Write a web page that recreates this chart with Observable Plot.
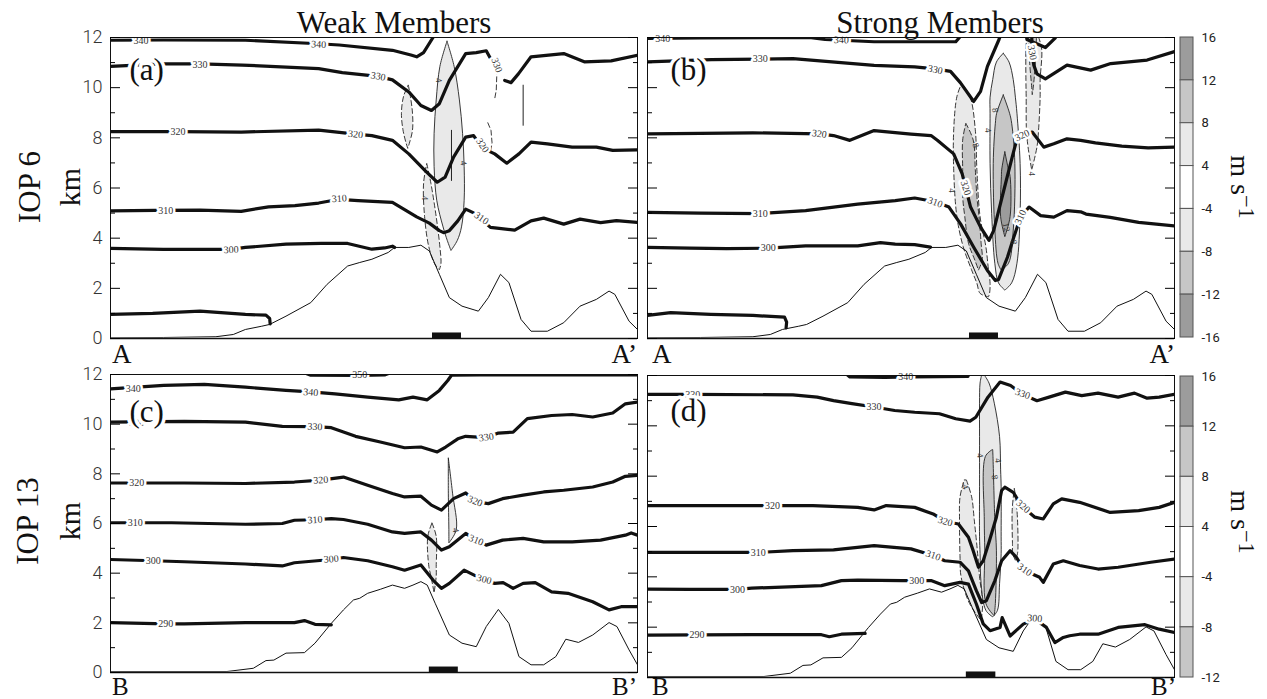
<!DOCTYPE html>
<html><head><meta charset="utf-8">
<script src="https://cdn.jsdelivr.net/npm/d3@7"></script>
<script src="https://cdn.jsdelivr.net/npm/@observablehq/plot@0.6"></script>
<style>
body{margin:0;background:#fff;}
#fig{position:relative;width:1267px;height:699px;overflow:hidden;background:#fff;}
.lab{position:absolute;font-family:"Liberation Serif","Times New Roman",serif;color:#111;white-space:nowrap;line-height:1;}
</style></head><body><div id="fig"></div>
<script>
// ---------------- DATA ----------------
// distance along section (0..100 % of A-A' / B-B'), height in km
const terrainA = [[0,0.03],[10,0.04],[20,0.07],[23.3,0.16],[25.6,0.36],[28.7,0.49],[30.2,0.56],[33.3,0.89],[38,1.43],[41.1,2.16],[45,2.89],[47.3,3.03],[49.6,3.16],[52.7,3.43],[53.9,3.63],[56.6,3.63],[58.9,3.72],[60.5,3.49],[62.4,2.56],[64.3,1.63],[66.7,1.29],[69.8,1.09],[71.7,1.63],[74,2.56],[75.6,2.23],[77.9,0.76],[79.8,0.29],[82.9,0.29],[86,0.63],[89.1,1.29],[92.2,1.56],[94.6,1.89],[95.7,1.76],[98.4,0.69],[100,0.36]];
const terrainB = [[0,0.04],[22.1,0.04],[27.1,0.17],[29.5,0.48],[31,0.5],[33.3,0.78],[36.8,0.8],[38.8,1.18],[41.9,1.98],[44.2,2.52],[46.1,2.92],[47.3,2.99],[48.8,3.19],[51.2,3.35],[53.5,3.52],[55.8,3.39],[57.4,3.52],[58.9,3.66],[60.1,3.52],[61.6,2.79],[64.3,1.51],[66.7,1.18],[69.4,1.04],[71.3,1.85],[73.6,2.54],[75.6,1.98],[77.5,0.64],[79.8,0.31],[82.2,0.31],[84.5,0.64],[86.4,1.34],[88.8,1.21],[91.5,1.51],[94.6,2.01],[96.1,1.85],[98.4,0.91],[100,0.31]];

// isentropes (K): t = theta, s = segment, p = [x, km]
const isenA = [
 {t:290,s:0,p:[[0,0.96],[8,1.0],[17,1.09],[25.6,0.96],[29.5,0.93],[30.2,0.8],[30.3,0.58]]},
 {t:300,s:0,p:[[0,3.59],[10,3.55],[22.9,3.55],[25.6,3.63],[33.3,3.76],[40,3.79],[45,3.79],[49.6,3.56],[52,3.61],[53.5,3.68],[53.9,3.63]]},
 {t:310,s:0,p:[[0,5.09],[8.5,5.11],[17,5.12],[24.8,5.07],[30,5.25],[35,5.3],[39.5,5.4],[43.4,5.55],[47,5.5],[53.5,5.43],[58.1,4.85],[60.5,4.6],[62.4,4.3],[63.2,4.22],[64.3,4.3],[65.9,4.69],[67.4,5.16],[69,5.0],[72.1,4.43],[76.7,4.32],[79.8,4.69],[82.2,4.8],[86,4.56],[89.1,4.76],[93,4.62],[96,4.7],[100,4.63]]},
 {t:320,s:0,p:[[0,8.25],[12.8,8.25],[24.8,8.23],[39.5,8.31],[46.5,8.15],[49.6,8.09],[53.5,7.9],[56.6,7.36],[59.7,6.69],[62,6.23],[63.5,6.43],[65.1,7.23],[67.4,8.03],[68.9,8.09],[70.5,7.6],[72.9,7.36],[75.2,6.99],[77.5,7.36],[79.8,7.83],[82.9,7.76],[87.6,7.63],[92.2,7.63],[95.3,7.5],[100,7.52]]},
 {t:330,s:0,p:[[0,10.85],[10,10.95],[17,10.95],[25,10.9],[39.5,10.76],[44,10.6],[50.8,10.45],[53.5,10.31],[56.6,9.83],[58.9,9.29],[60.9,9.09],[62.4,9.36],[64.3,10.29],[67.4,11.36],[69.4,11.4],[71.3,11.47],[72,11.2]]},
 {t:330,s:1,p:[[74.8,10.29],[76,10.2],[77.4,10.55],[79.8,11.23],[86,11.36],[89.9,11.03],[95,11.07],[100,11.29]]},
 {t:340,s:0,p:[[0,11.89],[10,11.9],[25.6,11.89],[39.5,11.75],[43.4,11.7],[53.5,11.49],[57,11.3],[58.1,11.23],[59.4,11.4],[61.2,12],[61.4,12.2]]}
];
const isenB = [
 {t:290,s:0,p:[[0,0.92],[4.4,1.03],[12,0.96],[20,0.92],[26,0.85],[26.4,0.65],[26.3,0.42]]},
 {t:300,s:0,p:[[0,3.63],[8,3.6],[15,3.58],[22.9,3.6],[30,3.69],[39.9,3.69],[44.2,3.82],[47,3.76],[50.7,3.74],[53.7,3.64]]},
 {t:310,s:0,p:[[0,5.03],[10,5.0],[21.4,4.98],[30,5.1],[39.9,5.36],[47,5.5],[50.7,5.6],[54.6,5.45],[57.2,5.24],[59.4,4.57],[61.9,3.64],[64.5,2.71],[66.0,2.31],[66.6,2.35],[68.3,3.24],[69.5,4.04],[70.8,4.84],[72.4,5.24],[74.6,4.9],[77.1,4.84],[79.6,5.1],[82.2,5.05],[83.2,4.96],[87.8,4.83],[93.2,4.63],[100,4.49]]},
 {t:320,s:0,p:[[0,8.16],[10,8.18],[20,8.2],[32.6,8.16],[35.3,8.09],[38.4,7.9],[43,8.29],[50,8.15],[53.8,8.09],[55,7.9],[58.1,7.36],[59.7,6.57],[60.4,6.0],[61.3,5.24],[63.2,4.44],[64.8,3.91],[65.7,4.31],[67.6,5.9],[69.2,7.23],[70.2,8.03],[71,8.1],[73,8.23],[75.2,7.63],[77.1,7.76],[79.6,7.96],[82.2,7.9],[85,7.8],[90,7.67],[95,7.6],[100,7.63]]},
 {t:330,s:0,p:[[0,11.03],[12.1,11.12],[21.4,11.14],[27.6,11.16],[35,11.03],[43,10.89],[50.7,10.83],[54.6,10.75],[57.5,10.65],[59.4,10.19],[61.9,9.45],[63.2,9.85],[64.5,10.85],[66.7,11.92],[67.2,12.2]]},
 {t:330,s:1,p:[[72.9,12.2],[73,11.3],[73.3,10.9],[73.9,10.55],[75.5,10.35],[79.6,10.9],[84.1,10.7],[87.9,10.96],[94.8,11.1],[100,11.44]]},
 {t:340,s:0,p:[[0,11.96],[10,11.98],[30.7,12.0],[33.7,11.92],[43,11.83],[50,11.83],[58.5,11.83],[59.2,12.0],[59.4,12.2]]},
 {t:340,s:1,p:[[71.8,12.2],[72,11.92],[75.5,11.6],[77.4,11.99],[77.6,12.2]]}
];
const isenC = [
 {t:290,s:0,p:[[0,2.01],[10.5,1.96],[14,1.96],[25.6,2.01],[34.9,2.01],[36.8,2.09],[38.8,1.94],[41.9,1.92]]},
 {t:300,s:0,p:[[0,4.55],[8.1,4.5],[14,4.46],[25.6,4.37],[32.6,4.29],[34.9,4.42],[41.9,4.55],[44.2,4.63],[48.8,4.5],[53.5,4.26],[55.8,4.12],[58.9,4.33],[61.2,3.72],[62.8,3.39],[64.3,3.59],[67.1,4.12],[70.9,3.72],[72.9,3.59],[74.5,3.62],[76.4,3.39],[78.3,3.59],[80.6,3.62],[83.7,3.25],[86.8,3.19],[91.5,2.85],[94.6,2.52],[96.9,2.65],[100,2.65]]},
 {t:310,s:0,p:[[0,6.03],[4.7,6.03],[11.6,6.03],[25.6,5.97],[32.6,6.0],[34.9,6.13],[38.8,6.15],[41.9,6.2],[44.2,6.16],[48.8,5.97],[53.5,5.66],[55.8,5.6],[58.9,5.66],[60.9,5.33],[62.8,4.93],[64.3,5.06],[67.4,5.6],[69.4,5.33],[71.3,5.13],[74.4,5.33],[78.3,5.4],[82.2,5.26],[87.6,5.26],[93,5.33],[97.7,5.53],[98.8,5.62],[100,5.53]]},
 {t:320,s:0,p:[[0,7.63],[14,7.63],[25.6,7.61],[34.9,7.67],[39.9,7.75],[44.2,7.87],[48.8,7.54],[53.5,7.21],[55.8,7.07],[58.9,7.1],[60.9,6.74],[62.8,6.54],[65.1,7.0],[67.4,7.23],[69.4,6.87],[71.7,6.8],[74.4,7.0],[78.3,7.14],[82.2,7.27],[86,7.34],[91.5,7.47],[95.3,7.67],[97.7,7.9],[100,7.94]]},
 {t:330,s:0,p:[[0,10.08],[14,10.11],[25.6,10.08],[32.6,9.91],[38.8,9.9],[41.9,9.86],[46.5,9.51],[51.2,9.28],[55.8,9.05],[58.9,9.08],[62,8.88],[63.6,9.08],[65.9,9.41],[67.4,9.51],[71.3,9.46],[73.6,9.64],[76.4,9.68],[79.1,10.22],[83.7,10.35],[87.6,10.39],[91.5,10.29],[95.3,10.45],[97.7,10.82],[100,10.89]]},
 {t:340,s:0,p:[[0,11.42],[10.1,11.56],[17.8,11.6],[25.6,11.49],[33.3,11.36],[38,11.3],[42.6,11.22],[48.8,11.09],[54.7,10.98],[57.4,11.09],[60.1,10.98],[62.4,11.36],[64,11.76],[64.7,11.97],[70,11.98],[100,11.98]]},
 {t:350,s:0,p:[[36.4,12.1],[38,11.97],[47,11.96],[52,11.98],[53.5,12.1]]}
];
const isenD = [
 {t:290,s:0,p:[[0,1.68],[9.4,1.69],[19.8,1.7],[33,1.7],[34.5,1.62],[36.8,1.72],[41.3,1.75]]},
 {t:300,s:0,p:[[0,3.51],[8,3.5],[17.1,3.5],[19.8,3.55],[33,3.65],[36.8,3.85],[39.9,3.87],[48.4,3.85],[51.1,3.85],[53.8,3.85],[56.4,3.65],[59.3,3.78],[60.9,3.71],[62.4,2.92],[63.7,2.13],[65.0,1.86],[66.9,1.99],[67.3,2.38],[68.8,1.65],[71.3,2.12],[73.5,2.32],[75.7,1.99],[77.3,1.39],[78.9,1.59],[80.1,1.66],[82,1.72],[85.5,1.72],[89.3,1.99],[94.4,2.1],[97.1,1.92],[100,1.79]]},
 {t:310,s:0,p:[[0,4.97],[10,4.97],[21,4.97],[27.6,5.04],[35.3,5.07],[43,5.24],[50,5.11],[54.2,4.85],[56.4,4.64],[59.3,4.58],[60.9,4.24],[62.4,3.45],[63.4,2.98],[64.3,3.05],[65.9,3.84],[67.2,4.64],[68.8,5.04],[70.0,4.77],[71.6,4.24],[74.4,3.98],[75.1,3.78],[77.0,4.51],[78.9,4.64],[82,4.45],[85.5,4.31],[89.3,4.38],[95.5,4.58],[100,4.71]]},
 {t:320,s:0,p:[[0,6.83],[10,6.83],[23.7,6.83],[31.4,6.83],[39.9,6.76],[43,6.66],[45.3,6.83],[50.7,6.76],[54.2,6.5],[56.5,6.2],[59.0,6.1],[60.9,5.57],[61.8,5.04],[62.8,4.38],[63.7,4.64],[64.9,5.44],[66.2,6.37],[67.2,7.43],[67.8,7.56],[69.4,7.36],[70.0,7.16],[71.3,6.76],[73.5,6.37],[75.1,6.3],[77.0,6.9],[78.6,7.1],[82.0,6.96],[87.8,6.56],[93.2,6.63],[97.1,6.76],[100,6.96]]},
 {t:330,s:0,p:[[0,11.25],[8.6,11.25],[27.6,11.23],[32.2,11.14],[35.3,11.0],[38.8,10.88],[43,10.75],[46.9,10.61],[50.7,10.54],[55.4,10.48],[58.5,10.28],[61.2,10.19],[62.3,10.34],[64.6,11.14],[66.9,11.74],[68.9,11.6],[71.2,11.25],[73.9,11.0],[76.2,11.14],[79.3,11.34],[82.4,11.2],[85.5,11.3],[89.3,11.14],[92.4,11.3],[94.8,11.1],[97.1,11.14],[100,11.25]]},
 {t:340,s:0,p:[[37.5,12.1],[38.4,11.94],[45,11.92],[50,11.94],[60.8,11.96],[61,12.1]]}
];

// isentrope labels [x, km, text, rotation]
const isenLabelsA = [[5.8,11.88,"340",0],[39.5,11.72,"340",3],[17,10.93,"330",0],[50.8,10.45,"330",10],[73.3,10.9,"330",70],[12.8,8.26,"320",0],[46.5,8.14,"320",6],[70.6,7.7,"320",55],[10.5,5.1,"310",0],[43.4,5.58,"310",-4],[70.4,4.8,"310",35],[22.9,3.54,"300",-2]];
const isenLabelsB = [[2.9,11.96,"340",0],[36.8,11.9,"340",2],[21.4,11.14,"330",0],[54.6,10.72,"330",12],[73,11.4,"330",80],[32.6,8.16,"320",8],[60.4,6.0,"320",72],[71.1,8.1,"320",-25],[21.4,4.98,"310",0],[54.6,5.43,"310",20],[70.8,4.84,"310",-65],[22.9,3.6,"300",0]];
const isenLabelsC = [[4.3,11.44,"340",0],[38,11.28,"340",5],[47.3,11.97,"350",0],[5,10.06,"330",0],[38.8,9.9,"330",3],[71.3,9.47,"330",-8],[5,7.63,"320",0],[39.9,7.75,"320",-4],[69.2,6.9,"320",22],[4.7,6.03,"310",0],[38.8,6.15,"310",-4],[69.4,5.33,"310",22],[8.1,4.5,"300",0],[41.9,4.57,"300",-5],[70.9,3.75,"300",15],[10.5,1.96,"290",0]];
const isenLabelsD = [[9.4,1.69,"290",0],[17.1,3.5,"300",0],[51.1,3.86,"300",0],[73.5,2.35,"300",5],[21,4.97,"310",0],[54.2,4.85,"310",20],[71.6,4.28,"310",35],[23.7,6.83,"320",0],[56.5,6.2,"320",15],[71.3,6.8,"320",40],[8.6,11.25,"330",0],[43,10.74,"330",0],[71.2,11.27,"330",20],[49,11.93,"340",0]];

// vertical velocity contours: sign (+ solid, - dashed), level |w| (m/s), rows [km, x left, x right]
const wA = [
 {sign:-1,lev:4,r:[[10.09,56.6,56.6],[9.63,55.7,57.0],[8.96,55.3,57.4],[8.29,55.6,57.4],[7.76,56.2,56.8],[7.56,56.5,56.5]]},
 {sign:-1,lev:4,r:[[6.96,60.1,60.1],[6.16,59.5,60.9],[4.83,59.7,61.9],[3.63,60.5,62.6],[2.96,61.6,62.8],[2.72,62.5,62.5]]},
 {sign:1,lev:4,r:[[11.83,63.95,63.95],[10.83,62.6,65.3],[9.49,61.9,66.3],[8.16,61.5,66.9],[6.83,61.5,67.2],[5.49,62.0,67.2],[4.43,63.2,66.7],[3.89,64.0,65.9],[3.49,64.7,64.7]]}
];
const wB = [
 {sign:-1,lev:4,r:[[10.15,59.7,59.7],[9.62,58.8,61.3],[8.29,58.2,62.3],[6.7,58.2,62.6],[4.84,58.8,63.2],[3.64,60.0,64.3],[2.71,61.6,64.8],[2.18,62.6,65.1],[1.78,63.2,65.0],[1.64,64.8,64.8]]},
 {sign:-1,lev:4,r:[[12.0,72.05,74.3],[11.5,71.9,74.9],[10.29,71.9,74.6],[9.62,71.95,74.6],[8.29,72.0,74.3],[7.62,72.3,74.0],[6.7,73.0,73.0]]},
 {sign:-1,lev:8,r:[[8.56,60.5,60.5],[7.89,59.9,61.9],[6.7,59.9,62.3],[5.64,59.9,62.6],[4.84,60.3,63.0],[3.78,61.0,63.4],[3.11,62.2,63.6],[2.71,62.9,62.9]]},
 {sign:-1,lev:8,r:[[12.0,72.4,73.9],[11.0,72.6,73.7],[10.0,73.0,73.3],[9.7,73.1,73.1]]},
 {sign:1,lev:4,r:[[11.35,67.6,67.6],[11.0,66.3,68.7],[10.3,65.6,69.5],[9.6,65.1,69.9],[8.96,65.1,70.2],[6.96,65.1,70.8],[4.97,65.4,70.8],[2.98,66.0,70.2],[2.2,66.7,69.2],[1.91,67.9,67.9]]},
 {sign:1,lev:8,r:[[9.69,67.6,67.6],[8.96,66.35,68.8],[8.56,66.1,69.2],[6.96,65.7,69.8],[4.3,66.0,69.5],[2.98,66.6,68.6],[2.71,67.2,67.2]]},
 {sign:1,lev:12,r:[[7.42,67.9,67.9],[6.7,67.3,68.6],[6.44,67.25,68.9],[4.84,67.1,68.9],[4.04,67.9,67.9]]}
];
const wC = [
 {sign:-1,lev:4,r:[[6.0,61.1,61.1],[5.46,60.3,61.9],[4.26,60.5,61.9],[3.86,60.9,61.9],[3.19,61.5,61.5]]},
 {sign:1,lev:4,r:[[8.61,64.2,64.2],[7.2,64.2,65.0],[5.73,64.3,65.7],[5.2,64.3,64.3]]}
];
const wD = [
 {sign:-1,lev:4,r:[[7.83,60.2,60.6],[7.16,59.4,61.6],[6.24,59.3,62.1],[4.77,59.4,62.8],[3.98,59.6,63.1],[2.92,61.2,63.7],[2.25,63.4,63.4]]},
 {sign:-1,lev:4,r:[[7.5,69.7,69.7],[6.63,69.3,70.2],[5.3,69.35,70.4],[4.9,69.4,70.3],[4.64,69.9,69.9]]},
 {sign:1,lev:4,r:[[12.0,63.5,64.0],[11.68,63.2,64.9],[10.88,63.1,65.9],[9.55,63.1,66.9],[8.23,63.1,67.1],[7.56,63.1,67.2],[5.57,63.1,67.2],[4.9,63.2,67.2],[3.71,63.4,66.9],[2.65,64.3,66.5],[2.39,65.6,65.6]]},
 {sign:1,lev:8,r:[[9.02,65.4,65.6],[8.76,64.2,65.65],[6.24,64.0,66.0],[5.04,64.1,66.3],[2.92,64.3,66.1],[2.45,65.8,65.9]]}
];
// open contour fragments [sign, points]
const fragsA = [
 {sign:-1,p:[[71.7,11.3],[72.8,11.0],[73.3,10.5],[73.2,9.9],[72.9,9.55]]},
 {sign:-1,p:[[71.6,8.6],[72.2,8.3],[72.4,7.8],[72.1,7.45]]},
 {sign:1,p:[[78.3,10.1],[78.3,8.5]]},
 {sign:1,p:[[64.7,8.3],[64.7,6.3]]}
];
// contour value labels [x, km, text, rotation]
const wLabelsA = [[62.3,10.3,"4",80],[67.0,7.0,"4",80],[59.6,5.6,"4",90]];
const wLabelsB = [[66.0,9.1,"8",80],[64.6,8.3,"4",80],[62.2,7.76,"-8",70],[57.8,5.9,"4",90],[68.1,4.44,"12",80],[69.5,3.84,"8",80],[72.9,6.57,"4",90]];
const wLabelsC = [[65.5,5.73,"4",80]];
const wLabelsD = [[63.1,8.82,"4",80],[66.5,8.62,"4",80],[65.9,7.96,"8",80],[60.2,7.63,"-4",70]];

// highlighted segment on the section baseline
const barA = [{x1:61.1,x2:66.6}];
const barB = [{x1:61.1,x2:66.6}];
const barC = [{x1:60.5,x2:66.0}];
const barD = [{x1:60.5,x2:66.1}];

// colour bars
const cbLevelsTop = [16,12,8,4,-4,-8,-12,-16];
const cbLevelsBottom = [16,12,8,4,-4,-8,-12];
const wFill = {4:"#e9e9e9",8:"#c6c6c6",12:"#9c9c9c"};
const cbFillsTop = ["#9c9c9c","#c6c6c6","#e9e9e9","#ffffff","#e9e9e9","#c6c6c6","#9c9c9c"];
const cbFillsBottom = ["#9c9c9c","#c6c6c6","#e9e9e9","#ffffff","#e9e9e9","#c6c6c6"];

const yMajor = [0,2,4,6,8,10,12];
const yMinor = [1,3,5,7,9,11];

// ---------------- DRAW ----------------
const fig = document.getElementById("fig");
const SERIF = "Liberation Serif, Times New Roman, serif";
const SANS = "Roboto, Liberation Sans, Arial, sans-serif";

function isenRows(isen){ return isen.flatMap(s => s.p.map(([x,y]) => ({x, y, id: s.t + "_" + s.s}))); }
function wRowsOf(w){ return w.flatMap((c,i) => c.r.map(([y,x1,x2]) => ({y, x1, x2, id: i, lev: c.lev, fill: wFill[c.lev], sign: c.sign}))); }
function fragRows(fr, sign){ return fr.filter(f => f.sign === sign).flatMap((f,i) => f.p.map(([x,y]) => ({x, y, id: i}))); }
function labRows(l){ return l.map(([x,y,t,r]) => ({x, y, t, r})); }

function makePanel(o){
  const ml = 40, mr = 2, mt = 2, mb = 2, iw = o.iw, ih = o.ih;
  const wr = wRowsOf(o.w);
  const neg = wr.filter(d => d.sign < 0), pos = wr.filter(d => d.sign > 0);
  const marks = [
    Plot.areaX(neg, {y:"y", x1:"x1", x2:"x2", z:"id", fill:"fill", stroke:"#222", strokeWidth:0.9, strokeDasharray:"5,3", curve:"catmull-rom", clip:true}),
    Plot.areaX(pos, {y:"y", x1:"x1", x2:"x2", z:"id", fill:"fill", stroke:"#222", strokeWidth:0.9, curve:"catmull-rom", clip:true}),
    Plot.line(fragRows(o.frags || [], -1), {x:"x", y:"y", z:"id", stroke:"#222", strokeWidth:0.9, strokeDasharray:"5,3", clip:true}),
    Plot.line(fragRows(o.frags || [], 1), {x:"x", y:"y", z:"id", stroke:"#222", strokeWidth:1, clip:true}),
    Plot.line(o.terrain, {x: d => d[0], y: d => d[1], stroke:"#111", strokeWidth:1, clip:true}),
    Plot.line(isenRows(o.isen), {x:"x", y:"y", z:"id", stroke:"#111", strokeWidth:3.2, clip:true}),
    Plot.text(labRows(o.labels), {x:"x", y:"y", text:"t", rotate:"r", fontSize:10, fontFamily:SERIF, fill:"#333", stroke:"white", strokeWidth:5}),
    Plot.text(labRows(o.wlabels), {x:"x", y:"y", text:"t", rotate:"r", fontSize:9, fontFamily:SERIF, fill:"#333"}),
    Plot.ruleY([0], {stroke:"#8a8a8a", strokeWidth:2}),
    Plot.rect(o.bar, {x1:"x1", x2:"x2", y1:0, y2:0.22, fill:"#111"}),
    Plot.frame({stroke:"#111", strokeWidth:1}),
    Plot.axisY(yMajor, {anchor:"left", tickSize:-10, tickFormat:() => "", label:null}),
    Plot.axisY(yMinor, {anchor:"left", tickSize:-5, tickFormat:() => "", label:null}),
    Plot.axisY(yMajor, {anchor:"right", tickSize:-10, tickFormat:() => "", label:null}),
    Plot.axisY(yMinor, {anchor:"right", tickSize:-5, tickFormat:() => "", label:null}),
    Plot.text([o.letter], {text: d => d, frameAnchor:"top-left", dx:o.ldx, dy:o.ldy, lineAnchor:"middle", textAnchor:"start", fontSize:31, fontFamily:SERIF, fill:"#111", stroke:"white", strokeWidth:7})
  ];
  if (o.yLabels) marks.push(Plot.axisY(yMajor, {anchor:"left", tickSize:0, tickPadding:8, fontSize:18, fontFamily:SANS, fontWeight:300, fill:"#333", label:null}));
  const svg = Plot.plot({
    width: iw + ml + mr, height: ih + mt + mb,
    marginLeft: ml, marginRight: mr, marginTop: mt, marginBottom: mb,
    x: {domain:[0,100], axis:null},
    y: {domain:[0,12], axis:null},
    color: {type:"identity"},
    style: {background:"transparent", overflow:"visible"},
    marks
  });
  svg.style.position = "absolute";
  svg.style.left = (o.left - ml) + "px";
  svg.style.top = (o.top - mt) + "px";
  fig.appendChild(svg);
}

function makeColorbar(levels, fills, left, top, ih){
  const n = fills.length;
  const boxes = fills.map((f,i) => ({lo: n-1-i, hi: n-i, f}));
  const svg = Plot.plot({
    width: 13 + 40, height: ih + 16,
    marginLeft: 0, marginRight: 40, marginTop: 8, marginBottom: 8,
    x: {domain:[0,1], axis:null},
    y: {domain:[0,n], axis:null},
    color: {type:"identity"},
    style: {background:"transparent", overflow:"visible"},
    marks: [
      Plot.rect(boxes, {x1:0, x2:1, y1:"lo", y2:"hi", fill:"f", stroke:"#555", strokeWidth:1}),
      Plot.axisY(d3.range(0, n+1), {anchor:"right", tickSize:0, tickPadding:8, fontSize:13, fontFamily:SANS, fill:"#222", tickFormat: k => String(levels[n-k]), label:null})
    ]
  });
  svg.style.position = "absolute";
  svg.style.left = left + "px";
  svg.style.top = (top - 8) + "px";
  fig.appendChild(svg);
}

makePanel({left:110, top:37, iw:527, ih:301, terrain:terrainA, isen:isenA, labels:isenLabelsA, w:wA, wlabels:wLabelsA, frags:fragsA, bar:barA, letter:"(a)", ldx:19, ldy:33, yLabels:true});
makePanel({left:647, top:37, iw:527, ih:301, terrain:terrainA, isen:isenB, labels:isenLabelsB, w:wB, wlabels:wLabelsB, frags:[], bar:barB, letter:"(b)", ldx:23, ldy:33, yLabels:false});
makePanel({left:110, top:374, iw:527, ih:298, terrain:terrainB, isen:isenC, labels:isenLabelsC, w:wC, wlabels:wLabelsC, frags:[], bar:barC, letter:"(c)", ldx:19, ldy:38, yLabels:true});
makePanel({left:647, top:375, iw:527, ih:302, terrain:terrainB, isen:isenD, labels:isenLabelsD, w:wD, wlabels:wLabelsD, frags:[], bar:barD, letter:"(d)", ldx:23, ldy:36, yLabels:false});
makeColorbar(cbLevelsTop, cbFillsTop, 1180, 37, 300);
makeColorbar(cbLevelsBottom, cbFillsBottom, 1180, 376, 301);

// ---------------- TEXT ----------------
function addText(html, x, y, size, transform, lh){
  const d = document.createElement("div");
  d.className = "lab";
  d.style.left = x + "px"; d.style.top = y + "px"; d.style.fontSize = size + "px";
  if (lh) d.style.lineHeight = lh;
  d.style.transform = transform;
  d.innerHTML = html;
  fig.appendChild(d);
}
const unit = "m s<span style='position:relative;top:-0.35em;font-size:0.8em'>&minus;1</span>";
addText("Weak Members", 394, 22, 31, "translate(-50%,-50%)");
addText("Strong Members", 940, 22, 31, "translate(-50%,-50%)");
addText("IOP 6", 29, 187, 31, "translate(-50%,-50%) rotate(-90deg)");
addText("km", 70, 187, 30, "translate(-50%,-50%) rotate(-90deg)");
addText("IOP 13", 27, 521, 31, "translate(-50%,-50%) rotate(-90deg)");
addText("km", 70, 521, 30, "translate(-50%,-50%) rotate(-90deg)");
addText(unit, 1240, 187, 28, "translate(-50%,-50%) rotate(90deg)", "0.9");
addText(unit, 1240, 522, 28, "translate(-50%,-50%) rotate(90deg)", "0.9");
addText("A", 112, 341, 27, "none");
addText("A&rsquo;", 637, 341, 27, "translate(-100%,0)");
addText("A", 652, 341, 27, "none");
addText("A&rsquo;", 1175, 341, 27, "translate(-100%,0)");
addText("B", 112, 677, 25, "none", "0.8");
addText("B&rsquo;", 637, 677, 25, "translate(-100%,0)", "0.8");
addText("B", 652, 677, 25, "none", "0.8");
addText("B&rsquo;", 1176, 677, 25, "translate(-100%,0)", "0.8");
</script></body></html>
